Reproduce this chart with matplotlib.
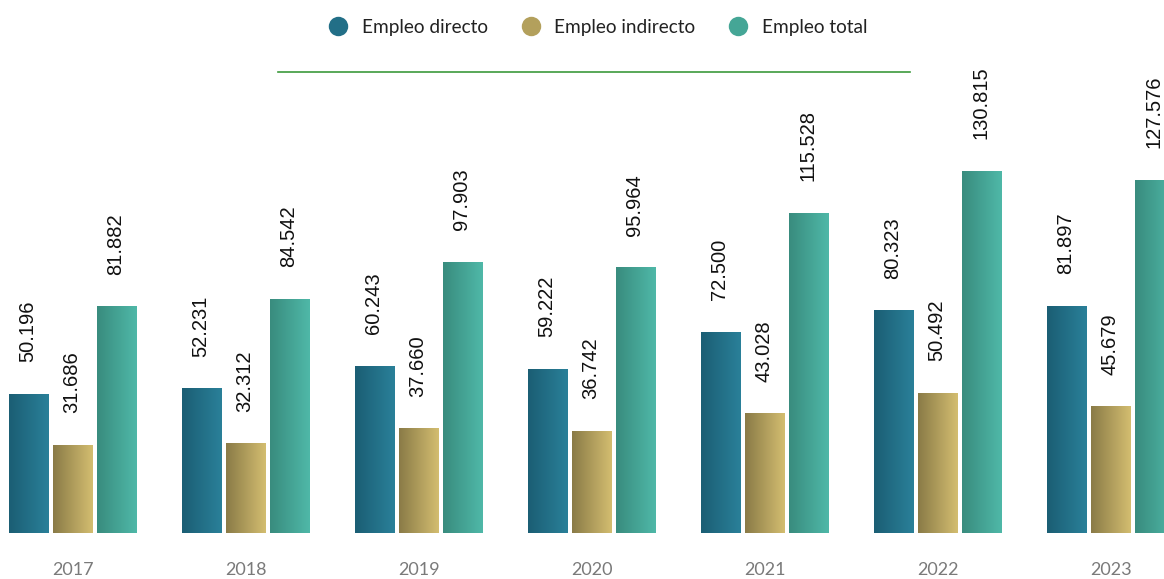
import numpy as np
import matplotlib
matplotlib.use("Agg")
import matplotlib.pyplot as plt
from matplotlib.colors import LinearSegmentedColormap
from matplotlib.lines import Line2D

years = ["2017", "2018", "2019", "2020", "2021", "2022", "2023"]
empleo_directo = [50196, 52231, 60243, 59222, 72500, 80323, 81897]
empleo_indirecto = [31686, 32312, 37660, 36742, 43028, 50492, 45679]
empleo_total = [81882, 84542, 97903, 95964, 115528, 130815, 127576]

series = [
    ("Empleo directo", empleo_directo, ("#1b5e74", "#2a8099")),
    ("Empleo indirecto", empleo_indirecto, ("#8a7b47", "#d3bd70")),
    ("Empleo total", empleo_total, ("#398c7e", "#4fb8a8")),
]
legend_colors = ["#226f87", "#b3a05c", "#45a696"]

fig = plt.figure(figsize=(11.64, 5.79), dpi=100)
ax = fig.add_axes([0, 46 / 579, 1, 415 / 579])

width = 0.231
step = 0.254
x = np.arange(len(years))
grad = np.linspace(0, 1, 64).reshape(1, -1)

for k, (name, vals, (c0, c1)) in enumerate(series):
    cmap = LinearSegmentedColormap.from_list(name, [c0, c1])
    for i, v in enumerate(vals):
        h = v / 1000
        xc = x[i] + (k - 1) * step
        # horizontal gradient fill for each bar
        ax.imshow(grad, cmap=cmap, aspect="auto", interpolation="bilinear",
                  extent=(xc - width / 2, xc + width / 2, 0, h), zorder=2)
        label = f"{v:,}".replace(",", ".")
        ax.annotate(label, (xc, h), xytext=(-1, 23), textcoords="offset points",
                    rotation=90, ha="center", va="bottom", fontsize=14.5,
                    family="Liberation Sans", color="#111111")

ax.set_xlim(-73 / 173, (1164 - 73) / 173)
ax.set_ylim(0, 150)
ax.set_xticks(x)
ax.set_xticklabels(years, family="Lato", fontsize=13, color="#7a7a7a")
ax.tick_params(axis="x", length=0, pad=21)
ax.set_yticks([])
for s in ax.spines.values():
    s.set_visible(False)

handles = [Line2D([], [], marker="o", linestyle="none", markersize=14,
                  markerfacecolor=c, markeredgewidth=0) for c in legend_colors]
fig.legend(handles, [s[0] for s in series], loc="center",
           bbox_to_anchor=(598 / 1164, 1 - 27 / 579), ncol=3, frameon=False,
           prop={"family": "Lato", "size": 13.7}, handlelength=1.0,
           handletextpad=0.75, columnspacing=1.75, labelcolor="#222222")

fig.add_artist(Line2D([278 / 1164, 910 / 1164], [1 - 72 / 579, 1 - 72 / 579],
                      color="#3c9a3c", linewidth=1.2))

fig.savefig("out.png", dpi=100)
